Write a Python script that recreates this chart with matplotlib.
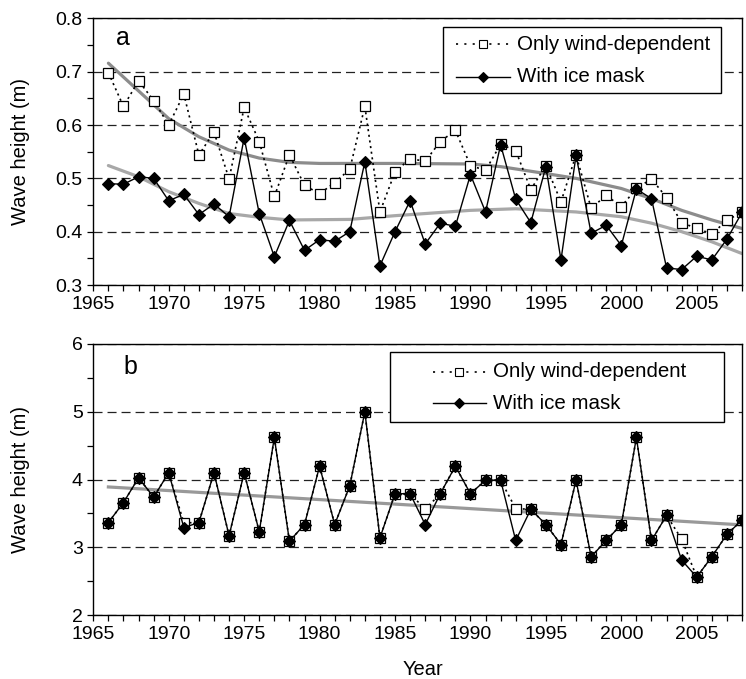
import matplotlib
matplotlib.use('Agg')
import matplotlib.pyplot as plt
from matplotlib.ticker import MultipleLocator, FormatStrFormatter
from matplotlib.patches import Rectangle
from matplotlib.lines import Line2D

plt.rcParams['font.family'] = ['Liberation Sans', 'DejaVu Sans']
plt.rcParams['lines.scale_dashes'] = False

# ---------------- data ----------------
years = list(range(1966, 2009))

wind_a = [0.698, 0.635, 0.683, 0.646, 0.600, 0.658, 0.544, 0.587, 0.499, 0.633,
          0.569, 0.466, 0.544, 0.487, 0.471, 0.492, 0.517, 0.635, 0.437, 0.512,
          0.537, 0.532, 0.569, 0.590, 0.524, 0.515, 0.564, 0.552, 0.479, 0.524,
          0.456, 0.544, 0.444, 0.468, 0.447, 0.481, 0.499, 0.464, 0.417, 0.406,
          0.396, 0.421, 0.437]
ice_a = [0.490, 0.489, 0.503, 0.500, 0.458, 0.470, 0.432, 0.452, 0.428, 0.576,
         0.434, 0.353, 0.421, 0.365, 0.385, 0.382, 0.400, 0.531, 0.336, 0.400,
         0.458, 0.377, 0.416, 0.410, 0.507, 0.437, 0.563, 0.461, 0.417, 0.522,
         0.347, 0.543, 0.397, 0.412, 0.374, 0.480, 0.462, 0.332, 0.329, 0.354,
         0.347, 0.386, 0.436]

trend_a_wind_years = [1966, 1968, 1970, 1972, 1974, 1976, 1978, 1980, 1985, 1990,
                      1992, 1995, 1997, 2000, 2002, 2004, 2006, 2008]
trend_a_wind = [0.716, 0.664, 0.612, 0.578, 0.553, 0.538, 0.530, 0.528, 0.528, 0.527,
                0.522, 0.509, 0.500, 0.481, 0.462, 0.440, 0.422, 0.406]
trend_a_ice_years = [1966, 1968, 1970, 1972, 1974, 1976, 1978, 1982, 1985, 1988,
                     1990, 1993, 1995, 1997, 2000, 2002, 2004, 2006, 2008]
trend_a_ice = [0.524, 0.503, 0.475, 0.453, 0.434, 0.427, 0.422, 0.423, 0.430, 0.436,
               0.440, 0.443, 0.440, 0.437, 0.428, 0.416, 0.400, 0.381, 0.359]

wind_b = [3.365, 3.66, 4.025, 3.74, 4.10, 3.36, 3.365, 4.10, 3.17, 4.10,
          3.23, 4.62, 3.09, 3.335, 4.197, 3.335, 3.906, 5.0, 3.138, 3.79,
          3.79, 3.56, 3.79, 4.197, 3.79, 3.99, 3.99, 3.57, 3.56, 3.335,
          3.04, 3.99, 2.86, 3.10, 3.335, 4.62, 3.10, 3.47, 3.12, 2.56,
          2.86, 3.19, 3.40]
ice_b = [3.365, 3.66, 4.025, 3.74, 4.10, 3.29, 3.365, 4.10, 3.17, 4.10,
         3.23, 4.62, 3.09, 3.335, 4.197, 3.335, 3.906, 5.0, 3.138, 3.79,
         3.79, 3.335, 3.79, 4.197, 3.79, 3.99, 3.99, 3.10, 3.56, 3.335,
         3.04, 3.99, 2.86, 3.10, 3.335, 4.62, 3.10, 3.47, 2.81, 2.56,
         2.86, 3.19, 3.40]
trend_b_years = [1966, 2008]
trend_b = [3.89, 3.33]

labels = ['Only wind-dependent', 'With ice mask']
ylabel = 'Wave height (m)'
xlabel = 'Year'

# ---------------- figure ----------------
W, H = 746, 679
fig = plt.figure(figsize=(W / 100, H / 100), dpi=100)
ax_a = fig.add_axes([93.3 / W, 1 - 285 / H, 648.7 / W, 266.6 / H])
ax_b = fig.add_axes([93.3 / W, 1 - 615 / H, 648.7 / W, 271 / H])

def P(px, py):
    return px / W, 1 - py / H

DOT = (0, (1.5, 2.6))
sq_kw = dict(color='black', linestyle=DOT, linewidth=1.2, marker='s', markersize=6.9,
             markerfacecolor='white', markeredgecolor='black', markeredgewidth=0.9, zorder=3)
di_kw = dict(color='black', linestyle='-', linewidth=1.0, marker='D', markersize=6.2,
             markerfacecolor='black', markeredgecolor='black', markeredgewidth=0.8, zorder=4)

def style(ax, ylim, major, minor, fmt):
    ax.set_xlim(1965, 2008)
    ax.set_ylim(*ylim)
    ax.xaxis.set_major_locator(MultipleLocator(5))
    ax.xaxis.set_minor_locator(MultipleLocator(1))
    ax.yaxis.set_major_locator(MultipleLocator(major))
    ax.yaxis.set_minor_locator(MultipleLocator(minor))
    ax.yaxis.set_major_formatter(FormatStrFormatter(fmt))
    ax.tick_params(which='both', direction='out', length=4.6, width=0.9,
                   labelsize=14, pad=3, colors='black')
    for s in ax.spines.values():
        s.set_linewidth(1.0)
    ax.grid(axis='y', which='major', color='#222222', linestyle=(0, (6.5, 3.6)),
            linewidth=0.9)
    ax.set_axisbelow(True)
    ax.set_ylabel(ylabel, fontsize=14.5)
    ax.yaxis.set_label_coords(-0.0975, 0.5)

# panel a
ax_a.plot(trend_a_wind_years, trend_a_wind, color='#8c8c8c', linewidth=2.3, zorder=2,
          solid_capstyle='round')
ax_a.plot(trend_a_ice_years, trend_a_ice, color='#a8a8a8', linewidth=2.3, zorder=2,
          solid_capstyle='round')
ax_a.plot(years, wind_a, **sq_kw)
ax_a.plot(years, ice_a, **di_kw)
style(ax_a, (0.3, 0.8), 0.1, 0.05, '%.1f')
ax_a.text(0.035, 0.900, 'a', transform=ax_a.transAxes, fontsize=18, va='baseline')

# panel b
ax_b.plot(trend_b_years, trend_b, color='#999999', linewidth=2.3, zorder=2)
ax_b.plot(years, wind_b, **sq_kw)
ax_b.plot(years, ice_b, **di_kw)
style(ax_b, (2, 6), 1, 0.5, '%d')
ax_b.text(0.047, 0.888, 'b', transform=ax_b.transAxes, fontsize=18, va='baseline')
ax_b.set_xlabel(xlabel, fontsize=14.5)
ax_b.xaxis.set_label_coords(0.508, -0.166)

# legends (drawn manually for exact placement)
def legend(box, rows, hx0, hx1, mx, tx):
    x0, y0, x1, y1 = box
    bx, by = P(x0, y1)
    bw, bh = (x1 - x0) / W, (y1 - y0) / H
    fig.add_artist(Rectangle((bx, by), bw, bh, transform=fig.transFigure,
                             facecolor='white', edgecolor='black', linewidth=1.0, zorder=10))
    for (py, lab, kw, ls) in zip(rows, labels, [sq_kw, di_kw], [(0, (1.5, 4.5)), '-']):
        xa, ya = P(hx0, py)
        xb, _ = P(hx1, py)
        xm, _ = P(mx, py)
        fig.add_artist(Line2D([xa, xb], [ya, ya], transform=fig.transFigure,
                              color='black', linestyle=ls, linewidth=kw['linewidth'], zorder=11))
        fig.add_artist(Line2D([xm], [ya], transform=fig.transFigure, linestyle='none',
                              marker=kw['marker'], markersize=kw['markersize'] * 0.8,
                              markerfacecolor=kw['markerfacecolor'],
                              markeredgecolor='black', markeredgewidth=0.8, zorder=12))
        xt, _ = P(tx, py)
        fig.text(xt, ya, lab, fontsize=14.8, va='center', ha='left', zorder=12)

legend((442.7, 27.3, 721, 92.7), [44, 76.7], 456, 510, 483, 517)
legend((390, 352, 724, 422), [371.7, 403.3], 433, 486, 459, 493)

fig.savefig('out.png', dpi=100)
